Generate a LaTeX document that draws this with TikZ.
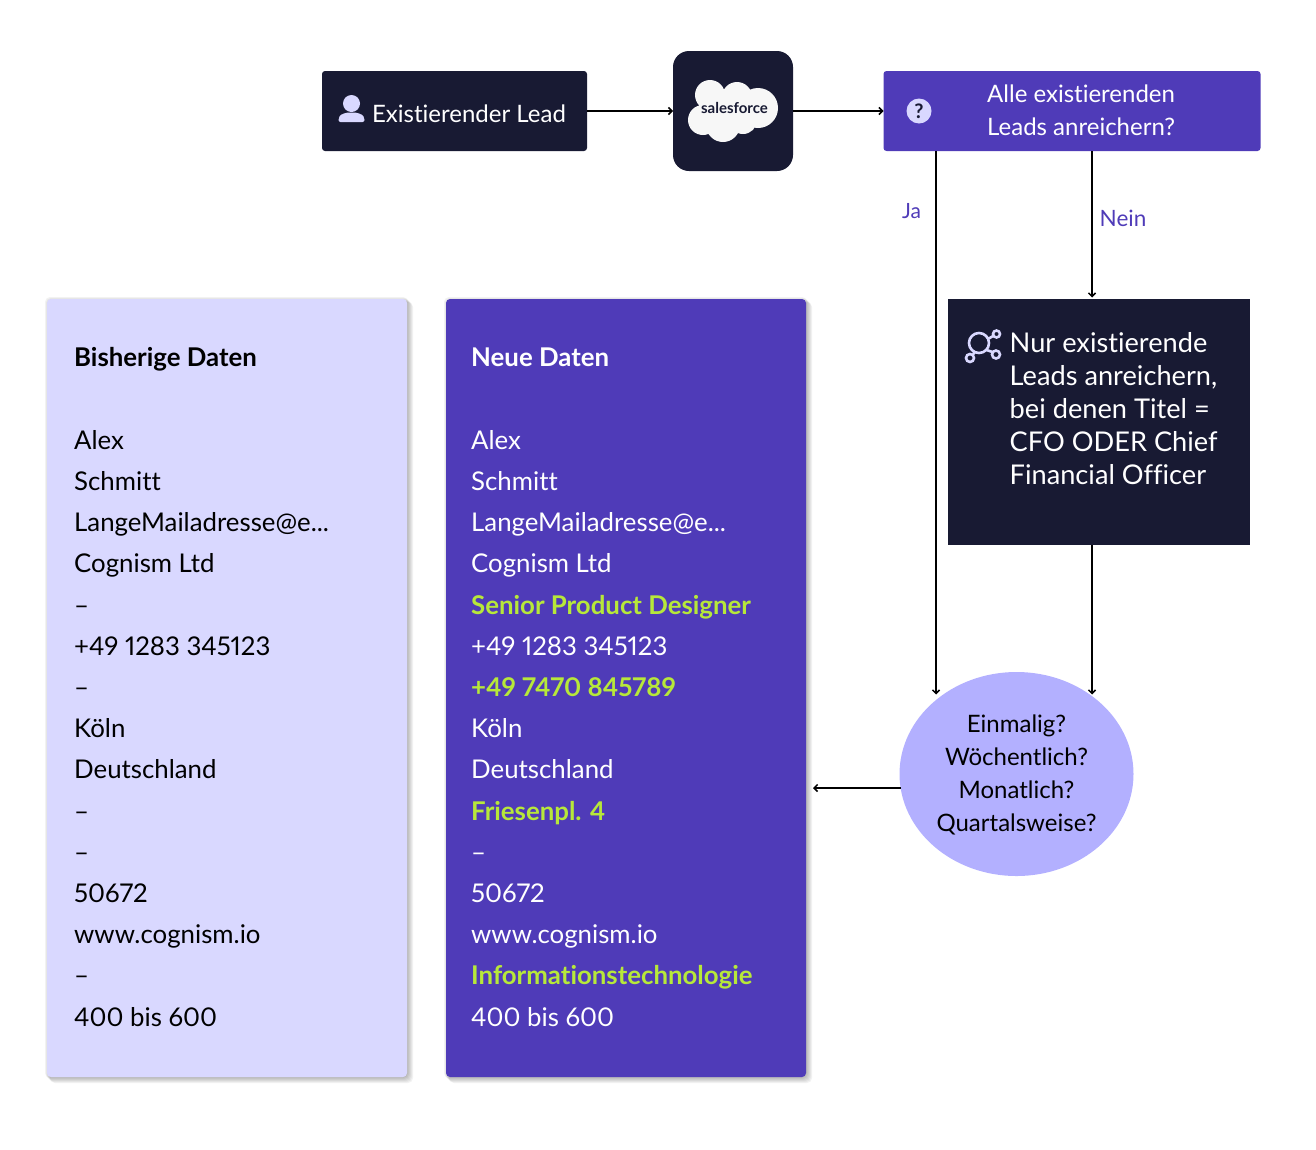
\documentclass[tikz,border=0pt]{standalone}
\usepackage{fontspec}
\setmainfont{Lato}[Ligatures=NoCommon, Numbers=Proportional]
\usetikzlibrary{arrows.meta, shapes.geometric}

\definecolor{inkNavy}{HTML}{181A33}
\definecolor{leadPurple}{HTML}{4F3BB8}
\definecolor{paleLilac}{HTML}{D9D8FF}
\definecolor{softLilac}{HTML}{B3B0FF}
\definecolor{newLime}{HTML}{B7E83A}

\tikzset{
    darkbox/.style={fill=inkNavy, rounded corners=3pt, inner sep=0pt, outer sep=0pt},
    panel/.style={rounded corners=4pt, inner sep=0pt, outer sep=0pt, minimum width=360pt, minimum height=778pt, anchor=north west},
    body/.style={font=\fontsize{24}{33}\selectfont, align=left, inner sep=0pt},
    rows/.style={font=\fontsize{25.8}{41.2}\selectfont, align=left, inner sep=0pt, anchor=north west},
    conn/.style={->, line width=1.5pt},
}
\newcommand{\fresh}[1]{\textcolor{newLime}{\textbf{#1}}}

\begin{document}
\begin{tikzpicture}[x=1pt, y=-1pt, >={Straight Barb[length=3.5pt, width=7pt]}]

    \useasboundingbox (0,0) rectangle (1316,1149);

    % --- 1. Top row ---
    \node (lead) [darkbox, minimum width=265pt, minimum height=80pt] at (454.5,111) {};
    \node (leadText) [body, text=white] at (469,114) {Existierender Lead};
    \fill [paleLilac] (351.5,103.5) circle (8.5);
    \fill [paleLilac, rounded corners=2pt] (338.5,122) -- (338.5,118) .. controls (341,114) and (346,112.5) .. (351.5,112.5) .. controls (357,112.5) and (362,114) .. (364.5,118) -- (364.5,122) -- cycle;

    \node (crm) [darkbox, rounded corners=16pt, minimum size=120pt] at (733,111) {};
    \fill [white!97!black] (710,95) circle (15) (737,97) circle (15) (758,108) circle (20) (703,120) circle (15) (723,125) circle (17) (743,120) circle (14) (725,108) circle (16);
    \node (crmText) [font=\fontsize{15}{15}\bfseries\selectfont, text=inkNavy, inner sep=0pt] at (734.5,108) {salesforce};

    \node (ask) [darkbox, fill=leadPurple, minimum width=377pt, minimum height=80pt] at (1072,111) {};
    \node (askText) [body, text=white, anchor=west] at (987,110.5) {Alle existierenden\\Leads anreichern?};
    \node (askIcon) [circle, fill=paleLilac, text=inkNavy, inner sep=0pt, minimum size=25pt, font=\fontsize{20}{20}\bfseries\selectfont] at (919,111) {?};

    % --- 2. Filter box and frequency ---
    \node (filter) [darkbox, rounded corners=0pt, minimum width=302pt, minimum height=246pt] at (1099,422) {};
    \node (filterText) [body, text=white, anchor=north west, font=\fontsize{27.2}{33}\selectfont] at (1009.5,332.5) {Nur existierende\\Leads anreichern,\\bei denen Titel =\\CFO ODER Chief\\Financial Officer};
    \draw [paleLilac, line width=2.6pt] (979,343) circle (10) (996.5,334) circle (3.5) (996,354.5) circle (4) (970,358) circle (4) (975,352) -- (972.5,355) (988,339) -- (993,336) (986.5,350) -- (992.5,352);

    \node (freq) [ellipse, fill=softLilac, inner sep=0pt, outer sep=0pt, minimum width=234pt, minimum height=204pt] at (1016.5,774) {};
    \node (freqText) [body, align=center, text=black] at (1016.5,775) {Einmalig?\\Wöchentlich?\\Monatlich?\\Quartalsweise?};

    \node (jaLabel) [font=\fontsize{21}{21}\selectfont, text=leadPurple, inner sep=0pt] at (911.5,211) {Ja};
    \node (neinLabel) [font=\fontsize{22.5}{22}\selectfont, text=leadPurple, inner sep=0pt] at (1123,218) {Nein};

    % --- 3. Data panels ---
    \foreach \s in {0,1,...,5} {
        \fill [black, opacity=0.05, rounded corners=5pt] (47+\s-2,299+\s-2) rectangle (407+\s+1,1077+\s+1);
        \fill [black, opacity=0.05, rounded corners=5pt] (446+\s-2,299+\s-2) rectangle (806+\s+1,1077+\s+1);
    }
    \node (oldPanel) [panel, fill=paleLilac] at (47,299) {};
    \node (newPanel) [panel, fill=leadPurple] at (446,299) {};

    \node (oldTitle) [rows, text=black, font=\fontsize{25.8}{30}\bfseries\selectfont] at (74,347.5) {Bisherige Daten};
    \node (oldRows) [rows, text=black] at (74,430) {Alex\\Schmitt\\LangeMailadresse@e...\\Cognism Ltd\\--\\+49 1283 345123\\--\\Köln\\Deutschland\\--\\--\\50672\\www.cognism.io\\--\\400 bis 600};

    \node (newTitle) [rows, text=white, font=\fontsize{25.8}{30}\bfseries\selectfont] at (471,347.5) {Neue Daten};
    \node (newRows) [rows, text=white] at (471,430) {Alex\\Schmitt\\LangeMailadresse@e...\\Cognism Ltd\\\fresh{Senior Product Designer}\\+49 1283 345123\\\fresh{+49 7470 845789}\\Köln\\Deutschland\\\fresh{Friesenpl. 4}\\--\\50672\\www.cognism.io\\\fresh{Informationstechnologie}\\400 bis 600};

    % --- 4. Connectors ---
    \coordinate (jaStart) at (936,151);
    \coordinate (jaEnd) at (936,694.5);
    \coordinate (neinStart) at (1092,151);
    \coordinate (neinEnd) at (1092,297.5);
    \coordinate (doneStart) at (1092,545);
    \coordinate (doneEnd) at (1092,694.5);
    \coordinate (backStart) at (901,788);
    \coordinate (backEnd) at (813,788);

    \draw [conn] (lead.east) -- (crm.west);
    \draw [conn] (crm.east) -- (ask.west);
    \draw [conn] (jaStart) -- (jaEnd);
    \draw [conn] (neinStart) -- (neinEnd);
    \draw [conn] (doneStart) -- (doneEnd);
    \draw [conn] (backStart) -- (backEnd);

\end{tikzpicture}
\end{document}
